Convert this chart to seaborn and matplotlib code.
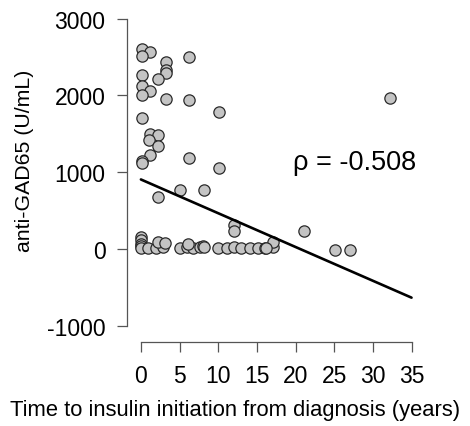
import numpy as np
import pandas as pd
import matplotlib
matplotlib.use("Agg")
import matplotlib.pyplot as plt
import seaborn as sns

# time to insulin initiation (years) and anti-GAD65 titre (U/mL)
years = [0.1, 1.2, 0.1, 6.2, 3.2, 3.2, 3.2, 0.1, 2.2, 0.1, 1.2, 0.1, 3.2, 6.2,
         10.1, 0.1, 1.2, 2.2, 1.0, 2.2, 1.2, 0.1, 0.1, 6.2, 10.1, 5.0, 8.1,
         2.2, 12.0, 12.0, 21.1, 32.2,
         0.0, 0.0, 0.0, 0.0, 0.0, 0.9, 1.9, 2.8, 2.2, 3.1,
         5.0, 6.0, 6.7, 7.6, 6.1, 8.0, 8.1,
         10.0, 11.1, 12.0, 13.0, 14.1, 15.1, 16.0, 17.1, 17.1, 16.2,
         25.1, 27.0]
gad65 = [2600, 2560, 2520, 2500, 2430, 2330, 2290, 2270, 2210, 2120, 2060, 2000,
         1950, 1940, 1780, 1700, 1500, 1490, 1420, 1340, 1230, 1150, 1120, 1180,
         1050, 770, 770, 680, 310, 230, 230, 1970,
         150, 110, 70, 40, 10, 10, 10, 20, 90, 80,
         10, 20, 10, 20, 60, 40, 20,
         10, 10, 20, 10, 10, 10, 10, 20, 90, 10,
         -20, -20]

# fitted line
fit_intercept = 905
fit_slope = -44
fit_range = [0, 35]
rho_text = "\u03c1 = -0.508"

xticks = [0, 5, 10, 15, 20, 25, 30, 35]
yticks = [-1000, 0, 1000, 2000, 3000]

df = pd.DataFrame({"years": years, "gad65": gad65})
fit_x = np.array(fit_range)
fit_df = pd.DataFrame({"years": fit_x, "gad65": fit_intercept + fit_slope * fit_x})

sns.set_style("ticks")
plt.rcParams["font.family"] = ["Liberation Sans", "DejaVu Sans"]
plt.rcParams["text.color"] = "black"
plt.rcParams["axes.labelcolor"] = "black"
plt.rcParams["axes.unicode_minus"] = False

fig = plt.figure(figsize=(4.7, 4.27), dpi=100)
ax = fig.add_axes([0.2702, 0.1967, 0.6383, 0.7752])

sns.scatterplot(data=df, x="years", y="gad65", ax=ax, s=66, color="#c4c4c4",
                edgecolor="#2a2a2a", linewidth=0.9, zorder=3)
sns.lineplot(data=fit_df, x="years", y="gad65", ax=ax, color="black",
             linewidth=1.9, zorder=4)

ax.set_xlim(-1.8, 37)
ax.set_ylim(-1213, 3100)
ax.set_xticks(xticks)
ax.set_yticks(yticks)
ax.spines["left"].set_bounds(-1000, 3000)
ax.spines["bottom"].set_bounds(0, 35)
for side in ["top", "right"]:
    ax.spines[side].set_visible(False)
for side in ["left", "bottom"]:
    ax.spines[side].set_color("#555555")
    ax.spines[side].set_linewidth(0.9)
ax.tick_params(direction="out", length=7.5, width=0.9, color="#555555",
               labelsize=16.5, pad=8, labelcolor="black")

ax.set_xlabel("Time to insulin initiation from diagnosis (years)", fontsize=15.8, labelpad=9)
ax.set_ylabel("anti-GAD65 (U/mL)", fontsize=15.3, labelpad=9)
ax.xaxis.label.set_x(0.36)
ax.yaxis.label.set_y(0.55)
ax.text(27.6, 1134, rho_text, fontsize=19.5, ha="center", va="center")

fig.savefig("out.png", dpi=100)
